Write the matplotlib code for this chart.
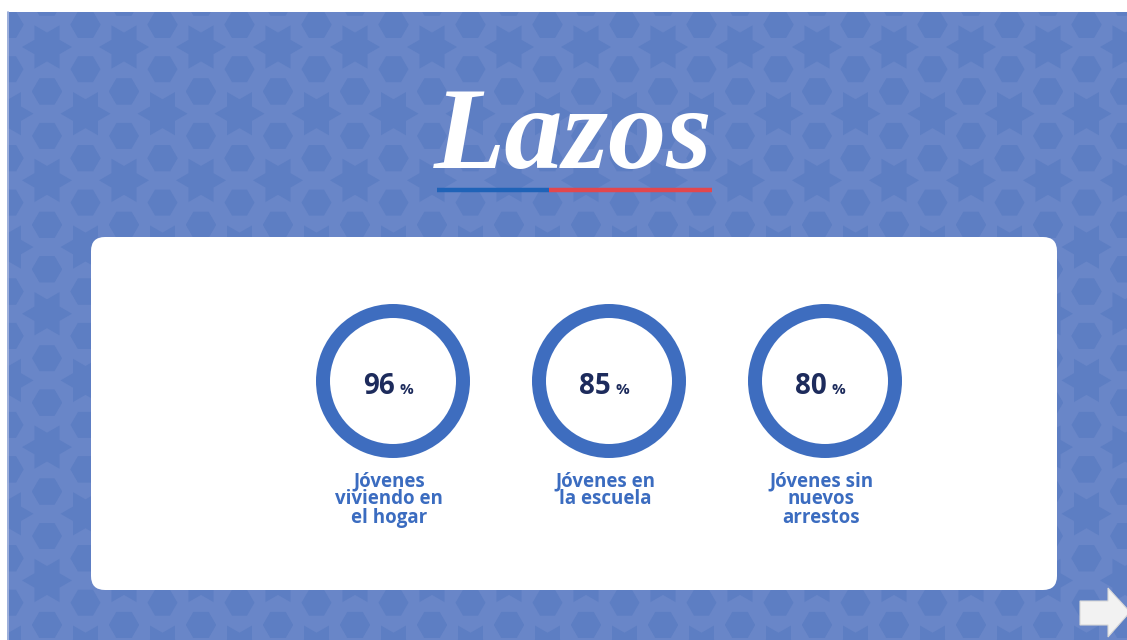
import numpy as np
import matplotlib
matplotlib.use("Agg")
import matplotlib.pyplot as plt
from matplotlib.patches import Polygon, Rectangle, FancyBboxPatch, Wedge

# ---- data ----
title = "Lazos"
values = [96, 85, 80]
labels = [
    ["Jóvenes", "viviendo en", "el hogar"],
    ["Jóvenes en", "la escuela"],
    ["Jóvenes sin", "nuevos", "arrestos"],
]

# ---- colours ----
bg_light = "#6986c8"
bg_dark = "#5d7ec3"
ring_col = "#3e6dbf"
num_col = "#1d2b5c"
lab_col = "#3b6cc0"
W, H = 1127, 640

fig = plt.figure(figsize=(W / 100, H / 100), dpi=100)
ax = fig.add_axes([0, 0, 1, 1])
ax.set_xlim(0, W)
ax.set_ylim(H, 0)
ax.axis("off")
fig.patch.set_facecolor("white")

# background panel with pattern
ax.add_patch(Rectangle((7, 12), W - 7, H - 12, facecolor=bg_light, edgecolor="none", zorder=0))

a = 77.0
dy = a * np.sqrt(3) / 2
def star(cx, cy, R):
    r = R / np.sqrt(3)
    pts = []
    for k in range(12):
        ang = np.deg2rad(k * 30)
        rr = R if k % 2 == 0 else r
        pts.append((cx + rr * np.cos(ang), cy + rr * np.sin(ang)))
    return pts

def hexagon(cx, cy, R):
    return [(cx + R * np.cos(np.deg2rad(60 * k)), cy + R * np.sin(np.deg2rad(60 * k))) for k in range(6)]

hexes = set()
for j in range(-1, 12):
    for i in range(-1, 17):
        sx = 47 + a * i + (a / 2 if j % 2 else 0)
        sy = 47 + dy * j
        ax.add_patch(Polygon(star(sx, sy, 25), closed=True, facecolor=bg_dark, edgecolor="none", zorder=1))
        for k in range(6):
            ang = np.deg2rad(90 + 60 * k)
            hexes.add((round(sx + 44.5 * np.cos(ang), 1), round(sy + 44.5 * np.sin(ang), 1)))
for hx, hy in hexes:
    ax.add_patch(Polygon(hexagon(hx, hy, 15), closed=True, facecolor=bg_dark, edgecolor="none", zorder=1))

# white margins (top and left)
ax.add_patch(Rectangle((0, 0), W, 12, facecolor="white", edgecolor="none", zorder=1.5))
ax.add_patch(Rectangle((0, 0), 7, H, facecolor="white", edgecolor="none", zorder=1.5))
ax.plot([7.5, 7.5], [12, H], color="#a9b9e0", lw=1.2, zorder=1.6)

# title
ax.text(573, 168, title, ha="center", va="baseline", color="white", fontsize=84,
        family="Liberation Serif", style="italic", weight="bold", zorder=3)
ax.plot([437, 549], [190, 190], color="#1f63b8", lw=3.2, solid_capstyle="butt", zorder=3)
ax.plot([549, 712], [190, 190], color="#e2474d", lw=3.2, solid_capstyle="butt", zorder=3)

# white card
card = FancyBboxPatch((91, 237), 966, 353, boxstyle="round,pad=0,rounding_size=14",
                      facecolor="white", edgecolor="none", zorder=2)
ax.add_patch(card)

# rings
cx0, step, cy = 393, 216, 381
for i, (v, lab) in enumerate(zip(values, labels)):
    cx = cx0 + step * i
    ax.add_patch(Wedge((cx, cy), 77, 0, 360, width=14, facecolor=ring_col, edgecolor="none", zorder=3))
    ax.text(cx + 2, 394, f"{v}", ha="right", va="baseline", color=num_col, fontsize=20,
            family="Open Sans", weight="bold", zorder=4)
    ax.text(cx + 6, 394, "%", ha="left", va="baseline", color=num_col, fontsize=11,
            family="Open Sans", weight="bold", zorder=4)
    for k, line in enumerate(lab):
        ax.text(cx - 4, 486 + 18.5 * k, line, ha="center", va="baseline", color=lab_col,
                fontsize=13.5, family="Open Sans", weight="bold", zorder=4)

# arrow
ax.add_patch(Polygon([(1080, 601), (1108, 601), (1108, 588), (1130, 612), (1108, 637),
                      (1108, 625), (1080, 625)], closed=True, facecolor="#f2f2f2",
                     edgecolor="#d8d8d8", lw=0.8, zorder=3))

fig.savefig("out.png", dpi=100)
